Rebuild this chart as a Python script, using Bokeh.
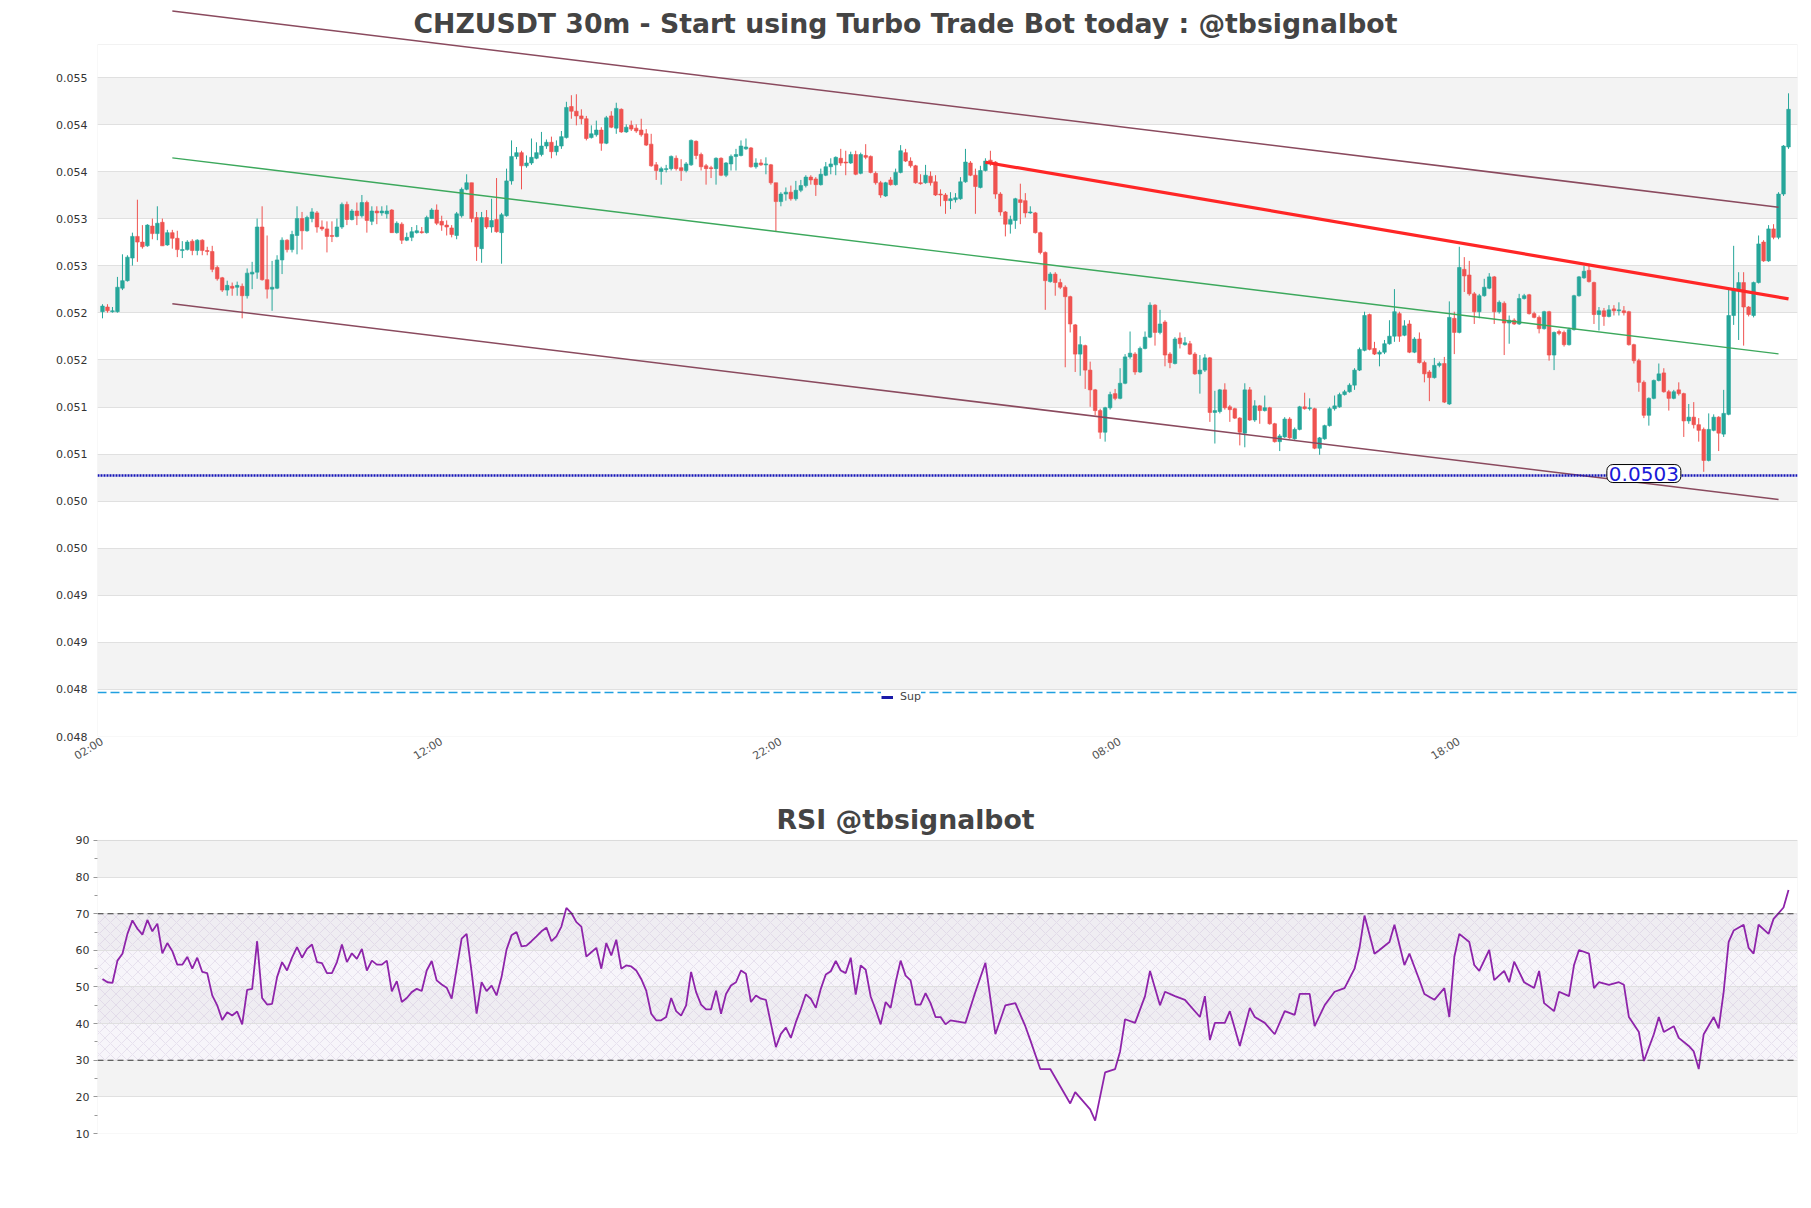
from bokeh.plotting import figure
from bokeh.models import (Range1d, FixedTicker, BoxAnnotation, Span, Label, Legend,
                          LegendItem, ColumnDataSource)
from bokeh.layouts import column
from bokeh.embed import file_html
from bokeh.resources import INLINE

# ---------------- data ----------------
TITLE = "CHZUSDT 30m - Start using Turbo Trade Bot today : @tbsignalbot"
RSI_TITLE = "RSI @tbsignalbot"

opens = [
0.05204,0.05209,0.05204,0.05204,0.05229,0.05237,0.05261,0.05284,0.05278,0.05274,
0.05295,0.05287,0.05299,0.05275,0.05288,0.05282,0.05269,0.05270,0.05279,0.05269,
0.05280,0.05269,0.05268,0.05251,0.05240,0.05227,0.05231,0.05230,0.05231,0.05221,
0.05244,0.05246,0.05294,0.05238,0.05228,0.05229,0.05259,0.05280,0.05270,0.05285,
0.05303,0.05290,0.05303,0.05309,0.05294,0.05292,0.05285,0.05284,0.05294,0.05318,
0.05302,0.05311,0.05306,0.05320,0.05300,0.05311,0.05309,0.05308,0.05312,0.05288,
0.05297,0.05280,0.05283,0.05288,0.05289,0.05288,0.05303,0.05312,0.05300,0.05296,
0.05293,0.05285,0.05306,0.05334,0.05341,0.05304,0.05271,0.05304,0.05294,0.05302,
0.05288,0.05306,0.05343,0.05369,0.05373,0.05359,0.05362,0.05367,0.05371,0.05380,
0.05384,0.05374,0.05380,0.05389,0.05422,0.05417,0.05412,0.05409,0.05389,0.05392,
0.05397,0.05383,0.05412,0.05399,0.05419,0.05395,0.05402,0.05399,0.05397,0.05393,
0.05382,0.05360,0.05353,0.05355,0.05356,0.05367,0.05357,0.05354,0.05360,0.05385,
0.05371,0.05359,0.05357,0.05356,0.05367,0.05349,0.05361,0.05369,0.05370,0.05377,
0.05378,0.05358,0.05362,0.05360,0.05360,0.05341,0.05321,0.05329,0.05331,0.05324,
0.05333,0.05338,0.05347,0.05345,0.05339,0.05349,0.05358,0.05360,0.05367,0.05363,
0.05362,0.05371,0.05351,0.05370,0.05369,0.05351,0.05341,0.05327,0.05344,0.05339,
0.05352,0.05373,0.05364,0.05359,0.05341,0.05341,0.05348,0.05342,0.05329,0.05328,
0.05322,0.05323,0.05324,0.05342,0.05362,0.05349,0.05336,0.05354,0.05365,0.05363,
0.05329,0.05310,0.05297,0.05301,0.05323,0.05322,0.05309,0.05309,0.05288,0.05267,
0.05236,0.05244,0.05235,0.05230,0.05220,0.05190,0.05159,0.05168,0.05142,0.05121,
0.05099,0.05076,0.05102,0.05117,0.05112,0.05128,0.05156,0.05159,0.05140,0.05165,
0.05177,0.05211,0.05182,0.05193,0.05159,0.05149,0.05176,0.05169,0.05170,0.05159,
0.05138,0.05142,0.05155,0.05097,0.05098,0.05121,0.05103,0.05101,0.05091,0.05075,
0.05121,0.05089,0.05104,0.05099,0.05102,0.05085,0.05066,0.05071,0.05090,0.05069,
0.05079,0.05103,0.05101,0.05101,0.05059,0.05069,0.05083,0.05101,0.05103,0.05116,
0.05119,0.05126,0.05142,0.05163,0.05201,0.05165,0.05159,0.05161,0.05170,0.05178,
0.05202,0.05179,0.05191,0.05161,0.05175,0.05150,0.05140,0.05134,0.05147,0.05149,
0.05106,0.05197,0.05182,0.05249,0.05243,0.05223,0.05204,0.05221,0.05229,0.05241,
0.05204,0.05213,0.05192,0.05195,0.05191,0.05218,0.05222,0.05202,0.05198,0.05186,
0.05204,0.05158,0.05183,0.05182,0.05169,0.05185,0.05221,0.05240,0.05248,0.05235,
0.05201,0.05205,0.05199,0.05207,0.05205,0.05205,0.05204,0.05169,0.05152,0.05129,
0.05094,0.05112,0.05131,0.05139,0.05119,0.05112,0.05121,0.05117,0.05088,0.05092,
0.05084,0.05079,0.05046,0.05078,0.05092,0.05074,0.05095,0.05200,0.05227,0.05235,
0.05209,0.05200,0.05235,0.05278,0.05258,0.05292,0.05283,0.05329,0.05379]

highs = [
0.05212,0.05212,0.05209,0.05241,0.05265,0.05264,0.05288,0.05323,0.05296,0.05297,
0.05303,0.05316,0.05303,0.05291,0.05291,0.05290,0.05279,0.05280,0.05281,0.05281,
0.05281,0.05273,0.05274,0.05253,0.05241,0.05237,0.05235,0.05236,0.05234,0.05250,
0.05257,0.05303,0.05316,0.05285,0.05258,0.05264,0.05283,0.05281,0.05290,0.05316,
0.05310,0.05306,0.05314,0.05311,0.05301,0.05300,0.05300,0.05303,0.05320,0.05321,
0.05313,0.05320,0.05328,0.05322,0.05316,0.05316,0.05316,0.05317,0.05313,0.05300,
0.05299,0.05288,0.05294,0.05296,0.05294,0.05306,0.05314,0.05318,0.05306,0.05301,
0.05296,0.05310,0.05336,0.05350,0.05341,0.05310,0.05310,0.05312,0.05324,0.05346,
0.05309,0.05356,0.05386,0.05379,0.05375,0.05370,0.05388,0.05384,0.05395,0.05387,
0.05390,0.05386,0.05396,0.05427,0.05434,0.05435,0.05419,0.05412,0.05402,0.05407,
0.05400,0.05412,0.05417,0.05426,0.05420,0.05403,0.05407,0.05403,0.05409,0.05398,
0.05393,0.05363,0.05358,0.05360,0.05370,0.05370,0.05366,0.05363,0.05387,0.05386,
0.05373,0.05361,0.05359,0.05368,0.05368,0.05363,0.05371,0.05377,0.05386,0.05388,
0.05379,0.05367,0.05366,0.05368,0.05361,0.05341,0.05331,0.05336,0.05338,0.05343,
0.05344,0.05349,0.05349,0.05347,0.05356,0.05363,0.05367,0.05369,0.05377,0.05375,
0.05374,0.05375,0.05373,0.05382,0.05370,0.05353,0.05343,0.05342,0.05347,0.05356,
0.05381,0.05377,0.05368,0.05360,0.05350,0.05360,0.05353,0.05349,0.05334,0.05330,
0.05331,0.05330,0.05347,0.05377,0.05364,0.05356,0.05359,0.05367,0.05375,0.05364,
0.05331,0.05311,0.05306,0.05325,0.05340,0.05330,0.05316,0.05310,0.05289,0.05268,
0.05246,0.05246,0.05239,0.05232,0.05221,0.05191,0.05178,0.05169,0.05151,0.05122,
0.05101,0.05103,0.05119,0.05122,0.05144,0.05159,0.05183,0.05161,0.05167,0.05183,
0.05214,0.05212,0.05206,0.05195,0.05161,0.05177,0.05182,0.05177,0.05173,0.05161,
0.05158,0.05159,0.05156,0.05120,0.05122,0.05128,0.05105,0.05102,0.05092,0.05128,
0.05124,0.05110,0.05105,0.05115,0.05103,0.05086,0.05074,0.05092,0.05092,0.05081,
0.05104,0.05118,0.05112,0.05102,0.05071,0.05084,0.05103,0.05115,0.05118,0.05121,
0.05128,0.05144,0.05166,0.05204,0.05202,0.05172,0.05163,0.05174,0.05195,0.05228,
0.05204,0.05195,0.05195,0.05177,0.05182,0.05152,0.05142,0.05155,0.05151,0.05156,
0.05215,0.05204,0.05273,0.05262,0.05258,0.05225,0.05223,0.05239,0.05245,0.05242,
0.05216,0.05215,0.05200,0.05197,0.05223,0.05223,0.05223,0.05204,0.05200,0.05205,
0.05205,0.05183,0.05185,0.05184,0.05187,0.05222,0.05242,0.05253,0.05255,0.05236,
0.05209,0.05208,0.05211,0.05211,0.05214,0.05210,0.05205,0.05170,0.05154,0.05131,
0.05113,0.05132,0.05149,0.05144,0.05121,0.05121,0.05129,0.05118,0.05106,0.05108,
0.05091,0.05081,0.05096,0.05095,0.05093,0.05121,0.05229,0.05274,0.05246,0.05246,
0.05210,0.05236,0.05285,0.05280,0.05296,0.05297,0.05331,0.05381,0.05436]

lows = [
0.05197,0.05203,0.05203,0.05203,0.05227,0.05236,0.05253,0.05257,0.05271,0.05273,
0.05281,0.05280,0.05274,0.05274,0.05271,0.05262,0.05261,0.05269,0.05264,0.05264,
0.05264,0.05264,0.05246,0.05237,0.05225,0.05221,0.05221,0.05221,0.05197,0.05218,
0.05228,0.05239,0.05237,0.05218,0.05205,0.05228,0.05244,0.05267,0.05267,0.05265,
0.05270,0.05289,0.05299,0.05288,0.05290,0.05267,0.05278,0.05283,0.05292,0.05296,
0.05301,0.05296,0.05304,0.05288,0.05296,0.05297,0.05306,0.05303,0.05288,0.05287,
0.05276,0.05279,0.05279,0.05287,0.05287,0.05287,0.05303,0.05296,0.05290,0.05285,
0.05283,0.05281,0.05304,0.05333,0.05299,0.05258,0.05256,0.05292,0.05288,0.05288,
0.05255,0.05305,0.05339,0.05366,0.05334,0.05357,0.05360,0.05366,0.05369,0.05377,
0.05367,0.05370,0.05377,0.05388,0.05409,0.05402,0.05403,0.05386,0.05388,0.05390,
0.05375,0.05382,0.05399,0.05393,0.05394,0.05394,0.05396,0.05394,0.05390,0.05380,
0.05358,0.05344,0.05339,0.05352,0.05354,0.05354,0.05343,0.05352,0.05359,0.05366,
0.05354,0.05339,0.05346,0.05339,0.05348,0.05347,0.05354,0.05354,0.05369,0.05376,
0.05357,0.05356,0.05359,0.05350,0.05339,0.05289,0.05316,0.05322,0.05322,0.05322,
0.05331,0.05336,0.05339,0.05327,0.05338,0.05348,0.05350,0.05349,0.05359,0.05349,
0.05361,0.05349,0.05350,0.05366,0.05351,0.05339,0.05325,0.05326,0.05338,0.05338,
0.05351,0.05363,0.05357,0.05340,0.05339,0.05340,0.05338,0.05327,0.05316,0.05308,
0.05313,0.05320,0.05323,0.05341,0.05348,0.05308,0.05335,0.05353,0.05359,0.05324,
0.05306,0.05284,0.05287,0.05292,0.05297,0.05304,0.05308,0.05287,0.05265,0.05206,
0.05235,0.05221,0.05228,0.05145,0.05182,0.05140,0.05136,0.05122,0.05103,0.05094,
0.05069,0.05066,0.05100,0.05110,0.05111,0.05127,0.05154,0.05137,0.05139,0.05164,
0.05176,0.05168,0.05180,0.05146,0.05144,0.05148,0.05165,0.05168,0.05158,0.05137,
0.05117,0.05140,0.05087,0.05064,0.05096,0.05100,0.05087,0.05090,0.05062,0.05060,
0.05088,0.05087,0.05085,0.05098,0.05084,0.05065,0.05056,0.05070,0.05069,0.05068,
0.05078,0.05100,0.05099,0.05058,0.05052,0.05068,0.05082,0.05099,0.05102,0.05115,
0.05118,0.05121,0.05141,0.05162,0.05163,0.05158,0.05146,0.05159,0.05169,0.05172,
0.05172,0.05178,0.05160,0.05160,0.05149,0.05129,0.05109,0.05133,0.05145,0.05107,
0.05105,0.05159,0.05181,0.05225,0.05221,0.05191,0.05197,0.05220,0.05228,0.05191,
0.05202,0.05158,0.05170,0.05190,0.05190,0.05217,0.05201,0.05197,0.05181,0.05185,
0.05152,0.05142,0.05179,0.05167,0.05168,0.05184,0.05220,0.05239,0.05235,0.05191,
0.05184,0.05189,0.05198,0.05200,0.05200,0.05200,0.05168,0.05149,0.05119,0.05091,
0.05083,0.05111,0.05130,0.05118,0.05099,0.05111,0.05115,0.05071,0.05085,0.05080,
0.05066,0.05034,0.05045,0.05077,0.05056,0.05071,0.05094,0.05190,0.05174,0.05168,
0.05199,0.05198,0.05234,0.05257,0.05257,0.05281,0.05281,0.05327,0.05377]

closes = [
0.05210,0.05205,0.05205,0.05230,0.05237,0.05262,0.05284,0.05278,0.05273,0.05296,
0.05287,0.05298,0.05274,0.05288,0.05282,0.05270,0.05270,0.05278,0.05269,0.05280,
0.05269,0.05268,0.05249,0.05239,0.05227,0.05232,0.05229,0.05232,0.05221,0.05245,
0.05246,0.05294,0.05238,0.05228,0.05230,0.05259,0.05280,0.05270,0.05286,0.05303,
0.05290,0.05304,0.05310,0.05294,0.05292,0.05284,0.05284,0.05294,0.05318,0.05302,
0.05311,0.05306,0.05320,0.05301,0.05311,0.05309,0.05311,0.05311,0.05288,0.05298,
0.05280,0.05283,0.05289,0.05290,0.05288,0.05304,0.05312,0.05298,0.05296,0.05294,
0.05286,0.05308,0.05334,0.05341,0.05303,0.05273,0.05304,0.05294,0.05301,0.05289,
0.05307,0.05343,0.05369,0.05373,0.05359,0.05362,0.05368,0.05373,0.05380,0.05384,
0.05374,0.05380,0.05390,0.05421,0.05417,0.05412,0.05409,0.05388,0.05393,0.05397,
0.05383,0.05410,0.05400,0.05420,0.05395,0.05400,0.05398,0.05396,0.05392,0.05381,
0.05359,0.05354,0.05356,0.05356,0.05369,0.05356,0.05354,0.05361,0.05386,0.05370,
0.05358,0.05356,0.05356,0.05367,0.05349,0.05362,0.05369,0.05371,0.05380,0.05379,
0.05358,0.05362,0.05360,0.05361,0.05341,0.05321,0.05329,0.05331,0.05324,0.05333,
0.05338,0.05347,0.05344,0.05339,0.05350,0.05358,0.05361,0.05368,0.05362,0.05362,
0.05371,0.05350,0.05371,0.05368,0.05352,0.05341,0.05328,0.05341,0.05339,0.05352,
0.05375,0.05364,0.05359,0.05341,0.05340,0.05349,0.05341,0.05328,0.05328,0.05322,
0.05324,0.05325,0.05342,0.05363,0.05349,0.05337,0.05354,0.05364,0.05363,0.05329,
0.05310,0.05297,0.05302,0.05324,0.05320,0.05309,0.05310,0.05288,0.05267,0.05237,
0.05244,0.05235,0.05230,0.05220,0.05191,0.05159,0.05169,0.05142,0.05121,0.05099,
0.05076,0.05102,0.05116,0.05112,0.05128,0.05156,0.05160,0.05140,0.05165,0.05177,
0.05211,0.05182,0.05191,0.05158,0.05150,0.05175,0.05170,0.05171,0.05159,0.05138,
0.05142,0.05155,0.05097,0.05099,0.05121,0.05102,0.05100,0.05091,0.05076,0.05121,
0.05089,0.05104,0.05099,0.05102,0.05085,0.05066,0.05072,0.05090,0.05070,0.05079,
0.05103,0.05101,0.05102,0.05059,0.05070,0.05083,0.05101,0.05104,0.05116,0.05119,
0.05126,0.05142,0.05164,0.05200,0.05164,0.05159,0.05161,0.05170,0.05178,0.05204,
0.05178,0.05189,0.05161,0.05175,0.05150,0.05138,0.05134,0.05147,0.05149,0.05108,
0.05198,0.05182,0.05251,0.05242,0.05223,0.05204,0.05221,0.05230,0.05241,0.05204,
0.05214,0.05192,0.05195,0.05191,0.05218,0.05221,0.05202,0.05198,0.05186,0.05204,
0.05158,0.05182,0.05181,0.05169,0.05185,0.05221,0.05241,0.05247,0.05236,0.05201,
0.05205,0.05199,0.05206,0.05205,0.05206,0.05203,0.05169,0.05152,0.05129,0.05094,
0.05112,0.05131,0.05138,0.05119,0.05112,0.05119,0.05117,0.05088,0.05092,0.05084,
0.05078,0.05046,0.05079,0.05092,0.05075,0.05096,0.05200,0.05228,0.05235,0.05209,
0.05201,0.05235,0.05276,0.05258,0.05292,0.05283,0.05329,0.05380,0.05419]

# time axis (candle index -> label)
x_tick_idx = [0, 68, 136, 204, 272]
x_tick_labels = ["02:00", "12:00", "22:00", "08:00", "18:00"]

# price axis ticks and their printed labels
y_tick_vals = [0.047528, 0.048028, 0.048528, 0.049028, 0.049528, 0.050028, 0.050528,
               0.051028, 0.051528, 0.052028, 0.052528, 0.053028, 0.053528, 0.054028, 0.054528]
y_tick_labels = ["0.048", "0.048", "0.049", "0.049", "0.050", "0.050", "0.051", "0.051",
                 "0.052", "0.052", "0.053", "0.053", "0.054", "0.054", "0.055"]

# regression channel (start / end candle index and prices)
channel_x = [14, 336]
channel_upper = [0.055235, 0.053150]
channel_mid = [0.053675, 0.051593]
channel_lower = [0.052124, 0.050045]

# resistance trend line
resist_x = [177, 338]
resist_y = [0.053628, 0.052177]

# horizontal levels
sup_level = 0.0503
sup_label_idx = 309
low_level = 0.047995

# RSI
rsi_left = [
52.2,51.3,51.1,57.2,59.1,64.5,68.2,65.9,64.3,68.3,65.2,67.3,59.2,62.0,59.8,56.1,56.1,58.2,55.0,58.0,
54.1,53.8,47.7,45.0,41.0,43.1,42.2,43.3,39.8,49.2,49.5,62.5,47.0,45.2,45.4,52.7,56.8,54.5,58.0,60.9,
58.0,60.4,61.6,56.8,56.5,53.8,53.8,56.8,61.6,56.8,59.2,57.7,60.4,54.5,57.2,56.1,56.1,57.2,48.8,51.6,
45.9,47.0,48.6,49.5,48.9,54.5,57.1,51.8,50.7,49.8,46.8,55.0,63.2,64.5,54.1,42.7,51.3,48.9,50.4,47.7,
52.7,60.2,64.1,65.0,61.1,61.3,62.5,63.8,65.2,66.2,62.5,63.8,66.5,71.6,70.2,67.7,66.5,58.3,59.5,60.7,
55.0,62.0,58.6,62.9,55.0,55.9,55.6,54.5,52.2,49.0,42.7,40.9,40.9,41.8,47.0,43.4,42.2,45.0,54.1,48.6,
45.2,43.9,43.9,49.0,42.7,48.1,50.4,51.3,54.5,53.6,45.9,47.7,46.8,46.5,40.0,33.6,37.2,38.9,36.1,40.4,
44.0,48.0,46.8,44.3,49.5,53.4,54.3,57.1,54.5,53.8,58.0,47.9,55.9,54.7,47.4,43.8,39.8,45.9,44.3,51.3,
57.2,53.1,51.8,45.2,45.2,48.3,45.6,41.8,41.8,39.8]
rsi_right_idx = [
170,173,175,177,179,181,183,185,186,188,190,192,194,195,198,199,201,203,204,205,
207,209,210,212,213,215,217,220,221,222,223,225,226,228,230,231,233,235,237,239,
240,242,243,245,247,249,251,252,253,255,256,258,259,261,262,264,265,267,269,270,
271,272,274,275,276,278,279,281,282,283,285,287,288,289,291,292,294,295,296,298,
299,300,302,304,305,306,308,309,311,312,313,315,316,318,319,320,321,323,324,325,
326,327,329,330,331,332,334,335,337,338]
rsi_right = [
40.9,40.2,48.7,56.6,37.1,45.0,45.6,39.3,35.5,27.6,27.6,22.9,18.2,21.3,16.6,13.5,26.7,27.6,32.4,41.2,
40.2,47.5,54.4,45.0,48.7,47.5,46.5,41.8,47.5,35.5,40.2,40.2,43.4,33.9,44.3,41.8,40.2,37.1,43.4,42.4,
48.1,48.1,39.3,45.0,48.7,49.7,55.0,60.7,69.5,59.1,60.1,62.3,67.0,56.0,59.1,51.9,48.1,46.5,49.7,41.8,
58.2,64.5,62.3,56.0,54.4,60.1,51.9,54.4,51.3,56.9,51.3,49.7,54.4,45.6,43.4,48.7,47.5,56.0,60.1,59.1,
49.7,51.3,50.6,51.3,50.6,41.8,37.7,29.8,37.1,41.8,37.7,39.3,36.1,33.9,32.4,27.6,37.1,41.8,38.7,48.7,
62.3,65.4,67.0,60.7,59.1,67.0,64.5,68.6,71.7,76.5]
rsi_ticks = [10, 20, 30, 40, 50, 60, 70, 80, 90]
rsi_minor = [15, 25, 35, 45, 55, 65, 75, 85]
rsi_upper, rsi_lower = 70, 30

# ---------------- styling / layout ----------------
FONT = "DejaVu Sans"
UP, DN = "#26a69a", "#ef5350"
BAND = "#f3f3f3"
GRID = "#e0e0e0"
BORDER = "#d2d2d2"
TITLE_SIZE = "26.7px"

n = len(closes)
x_range = Range1d(-1.0, n + 0.8)

p = figure(width=1811, height=790, x_range=x_range, y_range=Range1d(0.047528, 0.055346),
           output_backend="svg", toolbar_location=None,
           min_border_left=97, min_border_right=14, min_border_top=0, min_border_bottom=54)
p.title.text = ""
p.outline_line_color = None
p.background_fill_color = "white"
p.border_fill_color = "white"

# alternating bands between the ticks
for k in range(1, len(y_tick_vals) - 1, 2):
    p.add_layout(BoxAnnotation(bottom=y_tick_vals[k], top=y_tick_vals[k + 1], fill_color=BAND,
                               fill_alpha=1, line_color=None, level="image"))
# visible frame border (chart area)
p.add_layout(BoxAnnotation(top=0.054878, fill_color=None, fill_alpha=0, line_color=BORDER,
                           line_width=1, level="underlay"))

p.xgrid.visible = False
p.ygrid.ticker = FixedTicker(ticks=y_tick_vals)
p.ygrid.grid_line_color = GRID

p.yaxis.ticker = FixedTicker(ticks=y_tick_vals)
p.yaxis.major_label_overrides = {v: l for v, l in zip(y_tick_vals, y_tick_labels)}
p.yaxis.axis_line_color = None
p.yaxis.major_tick_line_color = None
p.yaxis.minor_tick_line_color = None
p.yaxis.major_tick_out = 0
p.yaxis.major_label_standoff = 10
p.yaxis.major_label_text_font = FONT
p.yaxis.major_label_text_font_size = "11px"
p.yaxis.major_label_text_color = "#333333"

p.xaxis.ticker = FixedTicker(ticks=x_tick_idx)
p.xaxis.major_label_overrides = {i: l for i, l in zip(x_tick_idx, x_tick_labels)}
p.xaxis.major_label_orientation = 0.55
p.xaxis.axis_line_color = None
p.xaxis.major_tick_line_color = None
p.xaxis.minor_tick_line_color = None
p.xaxis.major_tick_out = 0
p.xaxis.major_label_standoff = 4
p.xaxis.major_label_text_font = FONT
p.xaxis.major_label_text_font_size = "11px"
p.xaxis.major_label_text_color = "#555555"

# candles
up_ids = [i for i in range(n) if closes[i] >= opens[i]]
dn_ids = [i for i in range(n) if closes[i] < opens[i]]
for ids, col in ((up_ids, UP), (dn_ids, DN)):
    src = ColumnDataSource(dict(
        x=ids,
        top=[max(opens[i], closes[i]) for i in ids],
        bottom=[min(opens[i], closes[i]) for i in ids],
        high=[highs[i] for i in ids],
        low=[lows[i] for i in ids]))
    p.segment(x0="x", y0="low", x1="x", y1="high", source=src, line_color=col, line_width=1)
    p.vbar(x="x", width=0.72, top="top", bottom="bottom", source=src,
           fill_color=col, line_color=col, line_width=0.6)

# channel + trend lines
p.line(channel_x, channel_upper, line_color="#8a4a5e", line_width=1.5)
p.line(channel_x, channel_lower, line_color="#8a4a5e", line_width=1.5)
p.line(channel_x, channel_mid, line_color="#3ca85c", line_width=1.3)
p.line(resist_x, resist_y, line_color="#ff2626", line_width=3.2)

# horizontal levels
p.add_layout(Span(location=low_level, dimension="width", line_color="#1f9fe0",
                  line_width=1.5, line_dash="9 4"))
p.add_layout(Span(location=sup_level, dimension="width", line_color="#1414b8",
                  line_width=2.5, line_dash="2 1"))
p.add_layout(Label(x=sup_label_idx, y=sup_level, text=f"{sup_level:.4f}", text_font=FONT,
                   text_font_size="20px", text_color="#1a1ad8", text_align="center",
                   text_baseline="middle", y_offset=2, background_fill_color="white",
                   border_line_color="black", border_line_width=1, border_radius=6, padding=2))

# legend ("Sup" series swatch)
proxy = p.line([float("nan")], [float("nan")], line_color="#1a1aa8", line_width=3)
legend = Legend(items=[LegendItem(label="Sup", renderers=[proxy])], location=(784, 33),
                orientation="horizontal", background_fill_color="white", background_fill_alpha=1,
                border_line_color=None, label_text_font=FONT, label_text_font_size="11px",
                glyph_width=12, glyph_height=8, padding=4, margin=0, label_standoff=7)
p.add_layout(legend)

# title
p.add_layout(Label(x=808, y=713, x_units="screen", y_units="screen", text=TITLE,
                   text_font=FONT, text_font_style="bold", text_font_size=TITLE_SIZE,
                   text_color="#444444", text_align="center", text_baseline="middle"))

# ---------------- RSI ----------------
# frame extends above the 90 line so the title can sit inside it
p2 = figure(width=1811, height=418, x_range=x_range, y_range=Range1d(10, 103.65),
            output_backend="svg", toolbar_location=None,
            min_border_left=97, min_border_right=14, min_border_top=0, min_border_bottom=75)
p2.title.text = ""
p2.outline_line_color = None
for k in range(1, len(rsi_ticks) - 1, 2):
    p2.add_layout(BoxAnnotation(bottom=rsi_ticks[k], top=rsi_ticks[k + 1], fill_color=BAND,
                                fill_alpha=1, line_color=None, level="image"))
p2.add_layout(BoxAnnotation(bottom=rsi_lower, top=rsi_upper, fill_color="#e9e2f1", fill_alpha=0.35,
                            hatch_pattern="diagonal_cross", hatch_color="#cbbbd8", hatch_alpha=0.6,
                            hatch_scale=11, hatch_weight=0.6, line_color=None, level="image"))
p2.add_layout(BoxAnnotation(top=rsi_ticks[-1], fill_color=None, fill_alpha=0, line_color=BORDER,
                            line_width=1, level="underlay"))
p2.xgrid.visible = False
p2.ygrid.ticker = FixedTicker(ticks=rsi_ticks)
p2.ygrid.grid_line_color = GRID
p2.xaxis.visible = False
p2.yaxis.ticker = FixedTicker(ticks=rsi_ticks, minor_ticks=rsi_minor)
p2.yaxis.axis_line_color = None
p2.yaxis.major_tick_out = 4
p2.yaxis.major_tick_in = 0
p2.yaxis.minor_tick_out = 3
p2.yaxis.minor_tick_in = 0
p2.yaxis.major_tick_line_color = "#999999"
p2.yaxis.minor_tick_line_color = "#999999"
p2.yaxis.major_label_standoff = 4
p2.yaxis.major_label_text_font = FONT
p2.yaxis.major_label_text_font_size = "11px"
p2.yaxis.major_label_text_color = "#333333"

rsi_idx = list(range(len(rsi_left))) + rsi_right_idx
rsi_vals = rsi_left + rsi_right
p2.line(rsi_idx, rsi_vals, line_color="#8e24aa", line_width=1.8)
for lvl in (rsi_upper, rsi_lower):
    p2.add_layout(Span(location=lvl, dimension="width", line_color="#3a3a3a",
                       line_width=1.2, line_dash="6 4"))
p2.add_layout(Label(x=808, y=314, x_units="screen", y_units="screen", text=RSI_TITLE,
                    text_font=FONT, text_font_style="bold", text_font_size=TITLE_SIZE,
                    text_color="#444444", text_align="center", text_baseline="middle"))

layout = column(p, p2)
open("out.html", "w").write(file_html(layout, INLINE))
